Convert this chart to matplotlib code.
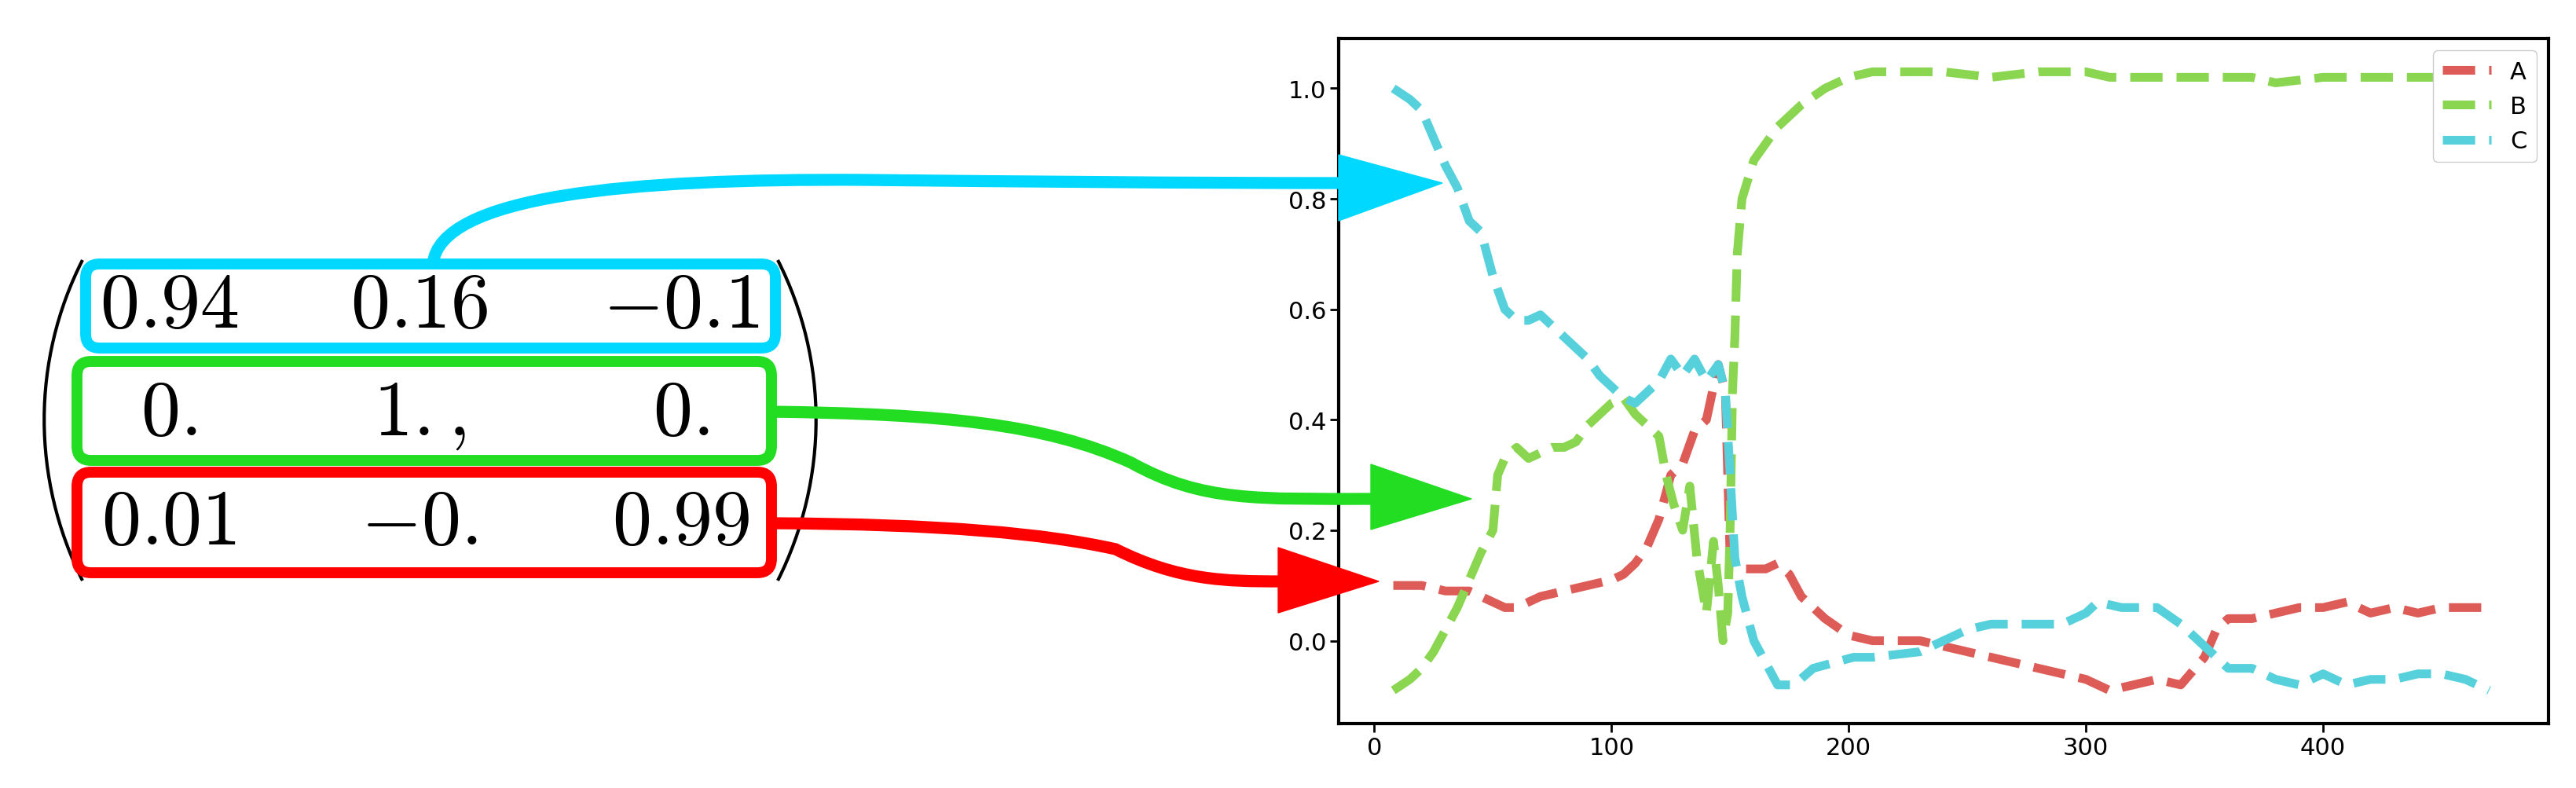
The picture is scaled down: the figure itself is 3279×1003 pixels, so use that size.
import matplotlib
matplotlib.use("Agg")
import matplotlib.pyplot as plt
from matplotlib.path import Path
from matplotlib.patches import PathPatch, Polygon, FancyBboxPatch, Rectangle

plt.rcParams['mathtext.fontset'] = 'cm'

# ---- data ----
x_a = [8, 20, 30, 40, 45, 50, 55, 60, 65, 70, 80, 90, 100, 105, 110, 115, 120, 125, 130, 135, 140, 145, 148, 150, 152, 160, 165, 170, 175, 180, 190, 200, 210, 220, 230, 240, 250, 260, 270, 280, 290, 300, 310, 320, 330, 340, 350, 355, 360, 370, 380, 390, 400, 410, 420, 430, 440, 450, 460, 470]
y_a = [0.10, 0.10, 0.09, 0.09, 0.08, 0.07, 0.06, 0.06, 0.07, 0.08, 0.09, 0.10, 0.11, 0.12, 0.14, 0.17, 0.22, 0.30, 0.32, 0.38, 0.40, 0.50, 0.45, 0.15, 0.13, 0.13, 0.13, 0.14, 0.12, 0.08, 0.04, 0.01, 0.00, 0.00, -0.00, -0.01, -0.02, -0.03, -0.04, -0.05, -0.06, -0.07, -0.09, -0.08, -0.07, -0.08, -0.03, 0.02, 0.04, 0.04, 0.05, 0.06, 0.06, 0.07, 0.05, 0.06, 0.05, 0.06, 0.06, 0.06]
x_b = [8, 15, 20, 25, 30, 35, 40, 45, 50, 52, 55, 60, 65, 70, 75, 80, 85, 90, 95, 100, 105, 110, 115, 120, 123, 126, 130, 133, 136, 140, 143, 145, 147, 149, 150, 151, 152, 153, 155, 160, 170, 180, 190, 200, 210, 230, 240, 260, 280, 300, 310, 340, 370, 380, 400, 420, 440, 460, 470]
y_b = [-0.09, -0.07, -0.05, -0.02, 0.02, 0.06, 0.11, 0.16, 0.20, 0.30, 0.33, 0.35, 0.33, 0.34, 0.35, 0.35, 0.36, 0.39, 0.41, 0.43, 0.44, 0.41, 0.39, 0.37, 0.30, 0.25, 0.20, 0.28, 0.15, 0.05, 0.18, 0.10, 0.00, 0.05, 0.20, 0.45, 0.55, 0.70, 0.80, 0.87, 0.93, 0.97, 1.00, 1.02, 1.03, 1.03, 1.03, 1.02, 1.03, 1.03, 1.02, 1.02, 1.02, 1.01, 1.02, 1.02, 1.02, 1.02, 1.02]
x_c = [8, 15, 20, 25, 30, 35, 40, 45, 50, 55, 60, 65, 70, 75, 80, 85, 90, 95, 100, 105, 110, 115, 120, 125, 130, 135, 140, 145, 148, 150, 152, 155, 160, 165, 170, 177, 185, 202, 210, 230, 240, 250, 260, 280, 290, 300, 305, 315, 330, 340, 350, 360, 370, 380, 390, 400, 410, 420, 430, 440, 450, 460, 470]
y_c = [1.00, 0.98, 0.96, 0.91, 0.86, 0.82, 0.76, 0.74, 0.66, 0.60, 0.58, 0.58, 0.59, 0.57, 0.55, 0.53, 0.51, 0.48, 0.46, 0.44, 0.43, 0.45, 0.47, 0.51, 0.48, 0.51, 0.47, 0.50, 0.45, 0.30, 0.15, 0.08, 0.00, -0.04, -0.08, -0.08, -0.05, -0.03, -0.03, -0.02, 0.00, 0.02, 0.03, 0.03, 0.03, 0.05, 0.07, 0.06, 0.06, 0.03, -0.01, -0.05, -0.05, -0.07, -0.08, -0.06, -0.08, -0.07, -0.07, -0.06, -0.06, -0.07, -0.09]
series_labels = ["A", "B", "C"]
series_colors = ["#dd5c57", "#8ad650", "#56d1dc"]
matrix_rows = [[r"$0.94$", r"$0.16$", r"$-0.1$"],
               [r"$0.$", r"$1.,$", r"$0.$"],
               [r"$0.01$", r"$-0.$", r"$0.99$"]]
row_colors = ["#00d8ff", "#22dd22", "#ff0000"]
xticks = [0, 100, 200, 300, 400]
yticks = [0.0, 0.2, 0.4, 0.6, 0.8, 1.0]

W, H = 3279, 1004
fig = plt.figure(figsize=(W / 100, H / 100), dpi=100)

ax = fig.add_axes([0.5197, 0.0817, 0.4696, 0.8683])
for xs, ys, lab, col in zip([x_a, x_b, x_c], [y_a, y_b, y_c], series_labels, series_colors):
    ax.plot(xs, ys, '--', color=col, lw=8, label=lab)
ax.set_xlim(-15, 495)
ax.set_ylim(-0.15, 1.09)
ax.set_xticks(xticks)
ax.set_yticks(yticks)
ax.tick_params(labelsize=22, length=8, width=2)
for s in ax.spines.values():
    s.set_linewidth(3)
ax.legend(loc='upper right', fontsize=22, handlelength=2.0, framealpha=1)

# overlay axes in pixel coords
ov = fig.add_axes([0, 0, 1, 1], zorder=10)
ov.set_xlim(0, W)
ov.set_ylim(H, 0)
ov.axis('off')
ov.patch.set_alpha(0)

# gap in bottom spine
ov.add_patch(Rectangle((1645, 910), 42, 30, color='white', zorder=1))

# matrix text
col_x = [215, 534, 867]
row_y = [390, 527, 666]
for ry, row in zip(row_y, matrix_rows):
    for cx, t in zip(col_x, row):
        ov.text(cx, ry, t, fontsize=72, ha='center', va='center', zorder=3)

# boxes
boxes = [(109, 337, 987, 444), (98, 461, 982, 587), (98, 602, 982, 730)]
for (x0, y0, x1, y1), c in zip(boxes, row_colors):
    ov.add_patch(FancyBboxPatch((x0, y0), x1 - x0, y1 - y0,
                                boxstyle="round,pad=0,rounding_size=18",
                                fill=False, ec=c, lw=10, zorder=4))

# parentheses
lp = Path([(105, 332), (40, 460), (40, 610), (105, 740)], [Path.MOVETO, Path.CURVE4, Path.CURVE4, Path.CURVE4])
rp = Path([(990, 332), (1055, 460), (1055, 610), (990, 740)], [Path.MOVETO, Path.CURVE4, Path.CURVE4, Path.CURVE4])
for p in (lp, rp):
    ov.add_patch(PathPatch(p, fill=False, lw=3, ec='black', zorder=2))

# arrows
shafts = [
    [(551, 337), (560, 250), (800, 228), (1100, 230), (1300, 232), (1500, 234), (1710, 234)],
    [(982, 525), (1200, 528), (1330, 540), (1440, 590), (1530, 640), (1600, 636), (1750, 636)],
    [(982, 667), (1200, 668), (1330, 680), (1420, 700), (1500, 740), (1560, 741), (1630, 741)],
]
codes = [Path.MOVETO, Path.CURVE4, Path.CURVE4, Path.CURVE4, Path.CURVE4, Path.CURVE4, Path.CURVE4]
heads = [
    [(1704, 198), (1704, 282), (1836, 234)],
    [(1745, 592), (1745, 675), (1873, 636)],
    [(1627, 698), (1627, 781), (1755, 741)],
]
for pts, hd, c in zip(shafts, heads, row_colors):
    ov.add_patch(PathPatch(Path(pts, codes), fill=False, ec=c, lw=11, capstyle='butt', zorder=5))
    ov.add_patch(Polygon(hd, closed=True, fc=c, ec=c, zorder=6))

fig.savefig("out.png", dpi=100)
